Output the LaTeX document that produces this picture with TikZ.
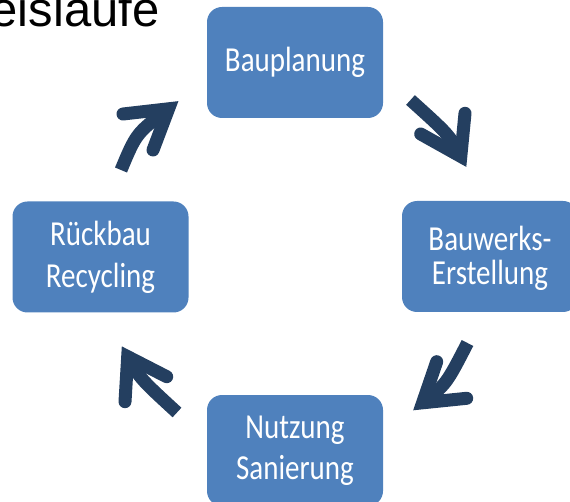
\documentclass[tikz,border=0pt]{standalone}
\usepackage{graphicx}
\usepackage{fontspec}
\usetikzlibrary{calc}
\newfontfamily\boxfamily{Carlito}
\newfontfamily\titlefamily{Liberation Sans}
\definecolor{boxblue}{HTML}{4F81BD}
\definecolor{arrowblue}{HTML}{243F60}
\newcommand\vstretch[1]{\scalebox{1}[1.21]{#1}}
\newcommand\boxlines[2][0pt]{\raisebox{#1}[\height][\depth]{\vstretch{\begin{tabular}{@{}c@{}}#2\end{tabular}}}}
\begin{document}
\begin{tikzpicture}[x=1pt,y=-1pt,
  stagebox/.style={fill=boxblue, rounded corners=15pt, minimum width=176pt,
    minimum height=111pt, inner sep=0pt, text=white},
  twoline/.style={font=\boxfamily\fontsize{29}{34.4}\selectfont},
  tightline/.style={font=\boxfamily\fontsize{29}{25.4}\selectfont},
  arrowpart/.style={draw=arrowblue, line width=13pt},
  shaftline/.style={arrowpart, line cap=butt},
  headline/.style={arrowpart, line cap=round, line join=miter, miter limit=20}]
\useasboundingbox (0,0) rectangle (570,502);
\clip (0,0) rectangle (570,502);

% title (cut off at the left edge)
\node[anchor=base west, inner sep=0pt, font=\titlefamily\fontsize{49}{58}\selectfont] (title) at (-9.5,27) {eislaufe};

% stages
\node[stagebox, twoline] (plan) at (295,62.5) {\boxlines[-0.9pt]{Bauplanung}};
\node[stagebox, tightline] (build) at (490,256.5) {\boxlines[-3.7pt]{Bauwerks-\\Erstellung}};
\node[stagebox, twoline] (use) at (295,450.5) {\boxlines{Nutzung\\Sanierung}};
\node[stagebox, twoline] (demol) at (100.5,257) {\boxlines[-1.3pt]{Rückbau\\Recycling}};

% arrow 1 (Rückbau -> Bauplanung)
\coordinate (a1s) at (121,170);
\coordinate (a1c) at (136.4,133.2);
\coordinate (a1v) at (168.6,108.8);
\coordinate (a1l) at (123,114);
\coordinate (a1r) at (153,150);
\draw[shaftline] (a1s) .. controls (a1c) .. (a1v);
\draw[headline] (a1l) -- (a1v) -- (a1r);

% arrow 2 (Bauplanung -> Bauwerks-Erstellung)
\coordinate (a2s) at (410.5,100);
\coordinate (a2c) at (449.4,135.1);
\coordinate (a2v) at (460.8,156.4);
\coordinate (a2l) at (465,113.3);
\coordinate (a2r) at (420.7,134);
\draw[shaftline] (a2s) .. controls (a2c) .. (a2v);
\draw[headline] (a2l) -- (a2v) -- (a2r);

% arrow 3 (Bauwerks-Erstellung -> Nutzung)
\coordinate (a3s) at (467.5,343);
\coordinate (a3c) at (446.2,384.3);
\coordinate (a3v) at (422.6,402.8);
\coordinate (a3l) at (436.7,361.7);
\coordinate (a3r) at (466.7,398.3);
\draw[shaftline] (a3s) .. controls (a3c) .. (a3v);
\draw[headline] (a3l) -- (a3v) -- (a3r);

% arrow 4 (Nutzung -> Rückbau)
\coordinate (a4s) at (177,412.5);
\coordinate (a4c) at (140,378.5);
\coordinate (a4v) at (127.7,356.7);
\coordinate (a4l) at (125,401.7);
\coordinate (a4r) at (166.7,376.7);
\draw[shaftline] (a4s) .. controls (a4c) .. (a4v);
\draw[headline] (a4l) -- (a4v) -- (a4r);
\end{tikzpicture}
\end{document}
